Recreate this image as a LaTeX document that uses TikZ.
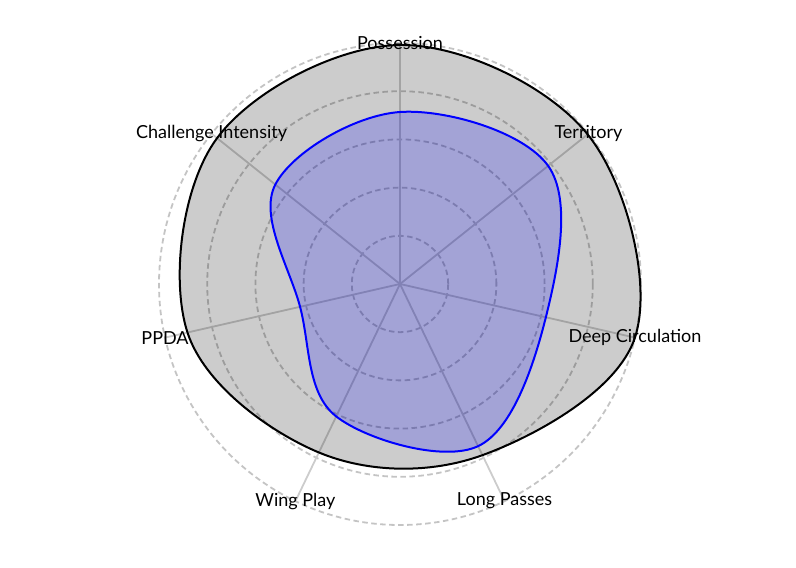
\documentclass[tikz,border=0pt]{standalone}
\usepackage{fontspec}
\setmainfont{Lato}
\definecolor{gridc}{HTML}{C4C4C4}
\definecolor{axisc}{HTML}{CCCCCC}
\begin{document}
\begin{tikzpicture}[x=1pt,y=1pt,
  gridcirc/.style={draw=gridc,line width=1.8pt,dash pattern=on 5.5pt off 3.5pt},
  axisline/.style={draw=axisc,line width=1.8pt},
  lbl/.style={font=\fontsize{18}{20}\selectfont,inner sep=0pt,text=black},
  grayarea/.style={fill=black,fill opacity=0.2,draw=black,line width=2pt},
  bluearea/.style={fill=blue,fill opacity=0.2,draw=blue,line width=2pt}]
\useasboundingbox (0,0) rectangle (796,568);
\begin{scope}[shift={(400,284)}]
\coordinate (c) at (0,0);
\foreach \r in {48.2,96.4,144.6,192.8,241}
  \draw[gridcirc] (c) circle[radius=\r];
\coordinate (pos) at (90:241);
\coordinate (ter) at (38.5714:241);
\coordinate (dee) at (-12.857:241);
\coordinate (lon) at (-64.286:241);
\coordinate (win) at (-115.714:241);
\coordinate (ppd) at (-167.143:241);
\coordinate (cha) at (141.429:241);
\foreach \n in {pos,ter,dee,lon,win,ppd,cha}
  \draw[axisline] (c) -- (\n);
\draw[grayarea] plot[smooth cycle,tension=0.6] coordinates {
  (90:239) (38.5714:240) (-12.857:241) (-64.286:190)
  (-115.714:187) (-167.143:218) (141.429:234)};
\draw[bluearea] plot[smooth cycle,tension=0.6] coordinates {
  (90:172) (38.5714:189.5) (-12.857:149.6) (-64.286:180)
  (-115.714:147) (-167.143:102.5) (141.429:159.5)};
\node[lbl] (tpos) at (pos) {Possession};
\node[lbl] (tter) at (ter) {Territory};
\node[lbl] (tdee) at (dee) {Deep Circulation};
\node[lbl] (tlon) at (lon) {Long Passes};
\node[lbl] (twin) at (win) {Wing Play};
\node[lbl] (tppd) at (ppd) {PPDA};
\node[lbl] (tcha) at (cha) {Challenge Intensity};
\end{scope}
\end{tikzpicture}
\end{document}
